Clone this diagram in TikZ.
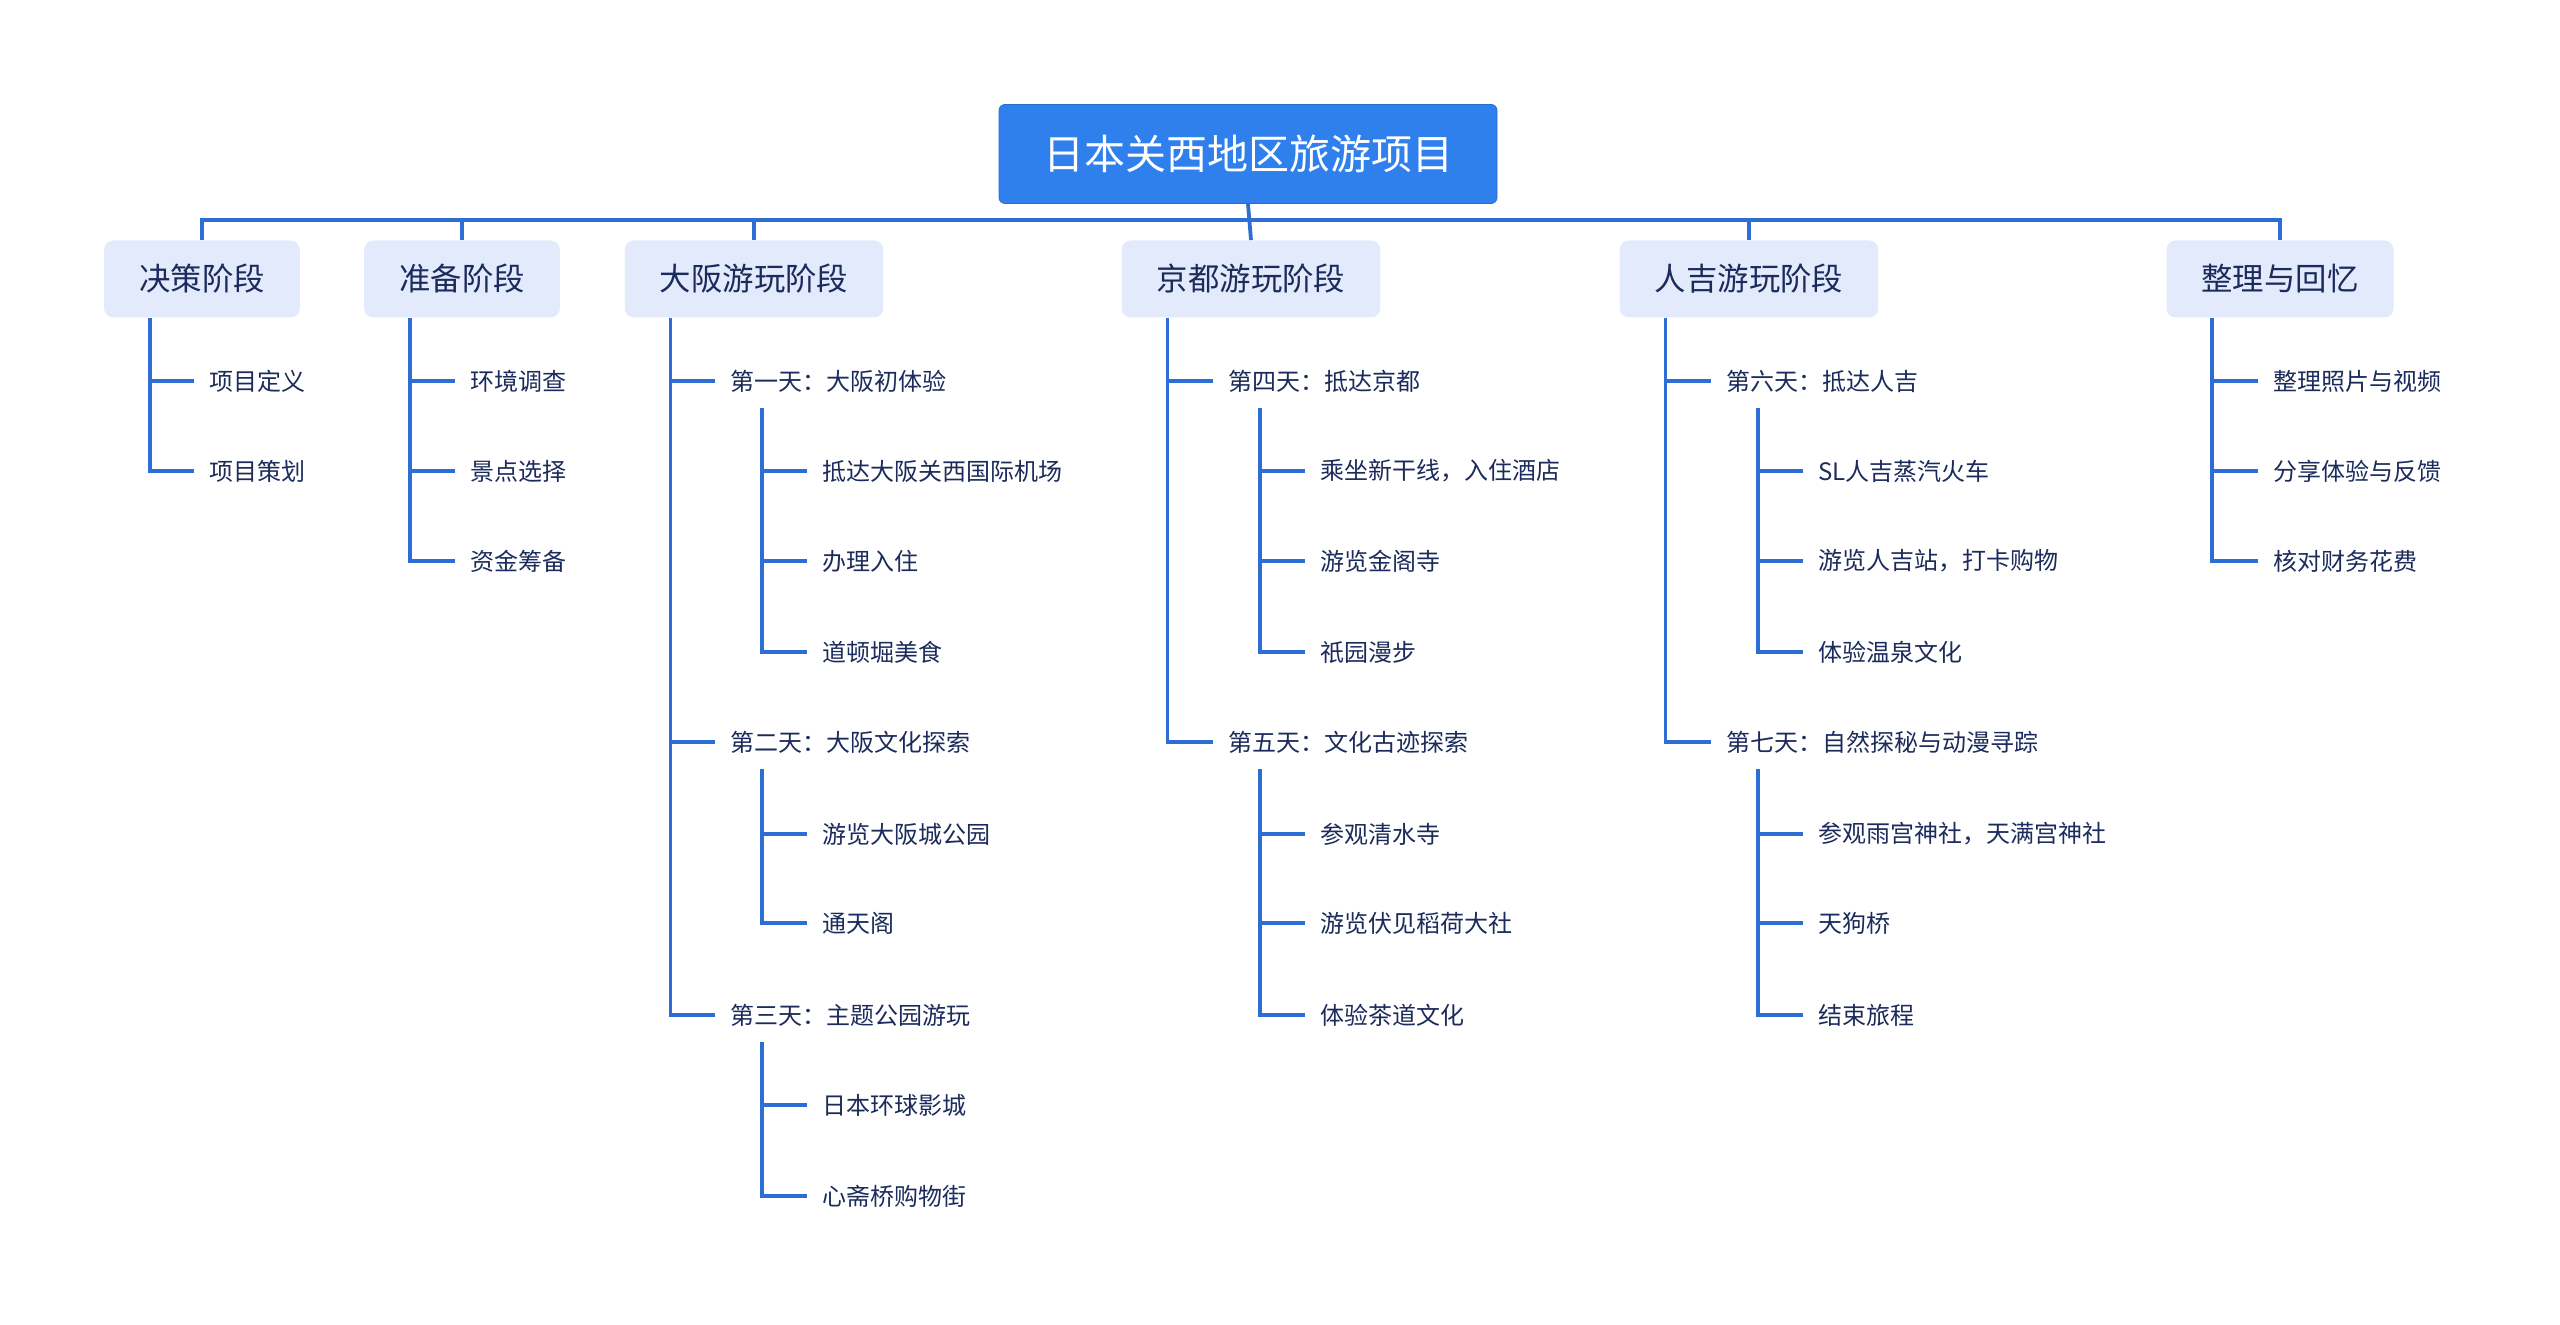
\documentclass[tikz,border=0pt]{standalone}
\usepackage{fontspec}
\setmainfont{Noto Sans CJK SC}
\usetikzlibrary{calc}
\definecolor{rootblue}{HTML}{2F80ED}
\definecolor{linkblue}{HTML}{2C6ED3}
\definecolor{phasefill}{HTML}{E2EAFB}
\definecolor{ink}{HTML}{1B2B5B}

\begin{document}
\begin{tikzpicture}[
  x=0.5pt, y=-0.5pt,
  rootbox/.style={draw=rootblue!85!black, fill=rootblue, rounded corners=3pt,
    text=white, font=\fontsize{20.5}{24}\selectfont,
    inner xsep=22pt, minimum height=49.5pt},
  phasebox/.style={fill=phasefill, rounded corners=4.5pt, text=ink,
    font=\fontsize{15.7}{19}\selectfont, inner xsep=17.5pt, minimum height=38.5pt},
  leaf/.style={anchor=west, text=ink, font=\fontsize{12}{14}\selectfont, inner xsep=7.5pt},
  link/.style={draw=linkblue, line width=1.9pt}
]
\useasboundingbox (0,0) rectangle (2560,1325);
% root and phases
\node[rootbox] (root) at (1248,154) {日本关西地区旅游项目};
\node[phasebox] (decide) at (202,279) {决策阶段};
\node[phasebox] (prep) at (462,279) {准备阶段};
\node[phasebox] (osaka) at (754,279) {大阪游玩阶段};
\node[phasebox] (kyoto) at (1251,279) {京都游玩阶段};
\node[phasebox] (hito) at (1749,279) {人吉游玩阶段};
\node[phasebox] (review) at (2280,279) {整理与回忆};
\coordinate (bus) at (0,220);
% leaves
\node[leaf] (decide1) at (194,381) {项目定义};
\node[leaf] (decide2) at (194,471) {项目策划};
\node[leaf] (prep1) at (455,381) {环境调查};
\node[leaf] (prep2) at (455,471) {景点选择};
\node[leaf] (prep3) at (455,561) {资金筹备};
\node[leaf] (day1) at (715,381) {第一天：大阪初体验};
\node[leaf] (day2) at (715,742) {第二天：大阪文化探索};
\node[leaf] (day3) at (715,1015) {第三天：主题公园游玩};
\node[leaf] (o1) at (807,471) {抵达大阪关西国际机场};
\node[leaf] (o2) at (807,561) {办理入住};
\node[leaf] (o3) at (807,652) {道顿堀美食};
\node[leaf] (o4) at (807,834) {游览大阪城公园};
\node[leaf] (o5) at (807,923) {通天阁};
\node[leaf] (o6) at (807,1105) {日本环球影城};
\node[leaf] (o7) at (807,1196) {心斋桥购物街};
\node[leaf] (day4) at (1213,381) {第四天：抵达京都};
\node[leaf] (day5) at (1213,742) {第五天：文化古迹探索};
\node[leaf] (k1) at (1305,471) {乘坐新干线，入住酒店};
\node[leaf] (k2) at (1305,561) {游览金阁寺};
\node[leaf] (k3) at (1305,652) {祇园漫步};
\node[leaf] (k4) at (1305,834) {参观清水寺};
\node[leaf] (k5) at (1305,923) {游览伏见稻荷大社};
\node[leaf] (k6) at (1305,1015) {体验茶道文化};
\node[leaf] (day6) at (1711,381) {第六天：抵达人吉};
\node[leaf] (day7) at (1711,742) {第七天：自然探秘与动漫寻踪};
\node[leaf] (h1) at (1803,471) {SL人吉蒸汽火车};
\node[leaf] (h2) at (1803,561) {游览人吉站，打卡购物};
\node[leaf] (h3) at (1803,652) {体验温泉文化};
\node[leaf] (h4) at (1803,834) {参观雨宫神社，天满宫神社};
\node[leaf] (h5) at (1803,923) {天狗桥};
\node[leaf] (h6) at (1803,1015) {结束旅程};
\node[leaf] (review1) at (2258,381) {整理照片与视频};
\node[leaf] (review2) at (2258,471) {分享体验与反馈};
\node[leaf] (review3) at (2258,561) {核对财务花费};
% connectors
\draw[link] (root.south) -- (kyoto.north);
\draw[link] (decide.north) -- (decide.north |- bus) -- (review.north |- bus) -- (review.north);
\draw[link] (prep.north) -- (prep.north |- bus);
\draw[link] (osaka.north) -- (osaka.north |- bus);
\draw[link] (hito.north) -- (hito.north |- bus);
\coordinate (tdecide) at ($(decide.south west)+(46,0)$);
\coordinate (tprep) at ($(prep.south west)+(46,0)$);
\coordinate (tosaka) at ($(osaka.south west)+(46,0)$);
\coordinate (tkyoto) at ($(kyoto.south west)+(46,0)$);
\coordinate (thito) at ($(hito.south west)+(46,0)$);
\coordinate (treview) at ($(review.south west)+(46,0)$);
\draw[link] (tdecide) |- (decide1.west) (tdecide) |- (decide2.west);
\draw[link] (tprep) |- (prep1.west) (tprep) |- (prep2.west) (tprep) |- (prep3.west);
\draw[link] (tosaka) |- (day1.west) (tosaka) |- (day2.west) (tosaka) |- (day3.west);
\draw[link] (tkyoto) |- (day4.west) (tkyoto) |- (day5.west);
\draw[link] (thito) |- (day6.west) (thito) |- (day7.west);
\draw[link] (treview) |- (review1.west) (treview) |- (review2.west) (treview) |- (review3.west);
\draw[link] ($(day1.west)+(47,27)$) |- (o1.west) ($(day1.west)+(47,27)$) |- (o2.west) ($(day1.west)+(47,27)$) |- (o3.west);
\draw[link] ($(day2.west)+(47,27)$) |- (o4.west) ($(day2.west)+(47,27)$) |- (o5.west);
\draw[link] ($(day3.west)+(47,27)$) |- (o6.west) ($(day3.west)+(47,27)$) |- (o7.west);
\draw[link] ($(day4.west)+(47,27)$) |- (k1.west) ($(day4.west)+(47,27)$) |- (k2.west) ($(day4.west)+(47,27)$) |- (k3.west);
\draw[link] ($(day5.west)+(47,27)$) |- (k4.west) ($(day5.west)+(47,27)$) |- (k5.west) ($(day5.west)+(47,27)$) |- (k6.west);
\draw[link] ($(day6.west)+(47,27)$) |- (h1.west) ($(day6.west)+(47,27)$) |- (h2.west) ($(day6.west)+(47,27)$) |- (h3.west);
\draw[link] ($(day7.west)+(47,27)$) |- (h4.west) ($(day7.west)+(47,27)$) |- (h5.west) ($(day7.west)+(47,27)$) |- (h6.west);
\end{tikzpicture}
\end{document}
